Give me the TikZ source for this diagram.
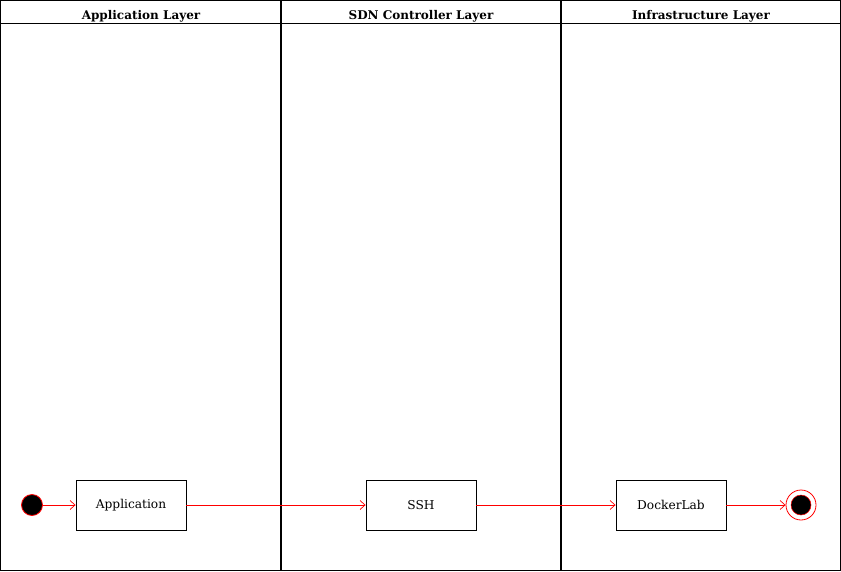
\documentclass[tikz,border=0pt]{standalone}
\usepackage{fontspec}
\setmainfont{DejaVu Serif}
\usetikzlibrary{arrows.meta}
\begin{document}
\begin{tikzpicture}[x=1pt,y=-1pt,
  lane/.style={draw=black,line width=1pt},
  hdr/.style={font=\fontsize{12}{14}\selectfont\bfseries,anchor=base},
  act/.style={draw=black,line width=0.9pt,fill=white,minimum width=110pt,minimum height=50pt,inner sep=0pt,font=\fontsize{12.2}{14}\selectfont},
  flow/.style={draw=red,line width=0.7pt,-{Straight Barb[length=5pt,width=9pt]}},
  startst/.style={circle,fill=black,draw=red,line width=0.8pt,minimum size=21pt,inner sep=0pt},
  endst/.style={circle,draw=red,line width=0.8pt,fill=white,minimum size=30pt,inner sep=0pt},
  endin/.style={circle,fill=black,draw=red,line width=0.5pt,minimum size=20pt,inner sep=0pt}
]
\useasboundingbox (0,0) rectangle (841,571);
\fill[white] (0,0) rectangle (841,571);
% lanes
\draw[lane] (0.5,0.5) rectangle (840.5,570.5);
\draw[lane] (0.5,23) -- (840.5,23);
\draw[lane,line width=1.5pt] (281,0.5) -- (281,570.5);
\draw[lane,line width=1.5pt] (561,0.5) -- (561,570.5);
\node[hdr] (h1) at (141,19) {Application Layer};
\node[hdr] (h2) at (421,19) {SDN Controller Layer};
\node[hdr] (h3) at (701,19) {Infrastructure Layer};
% nodes
\node[startst] (start) at (32,505) {};
\node[act] (app) at (131,505) {Application};
\node[act] (ssh) at (421,505) {SSH};
\node[act] (dock) at (671,505) {DockerLab};
\node[endst] (end) at (801,505) {};
\node[endin] (endi) at (801,505) {};
% flows
\draw[flow] (start) -- (app);
\draw[flow] (app) -- (ssh);
\draw[flow] (ssh) -- (dock);
\draw[flow] (dock) -- (end);
\end{tikzpicture}
\end{document}
